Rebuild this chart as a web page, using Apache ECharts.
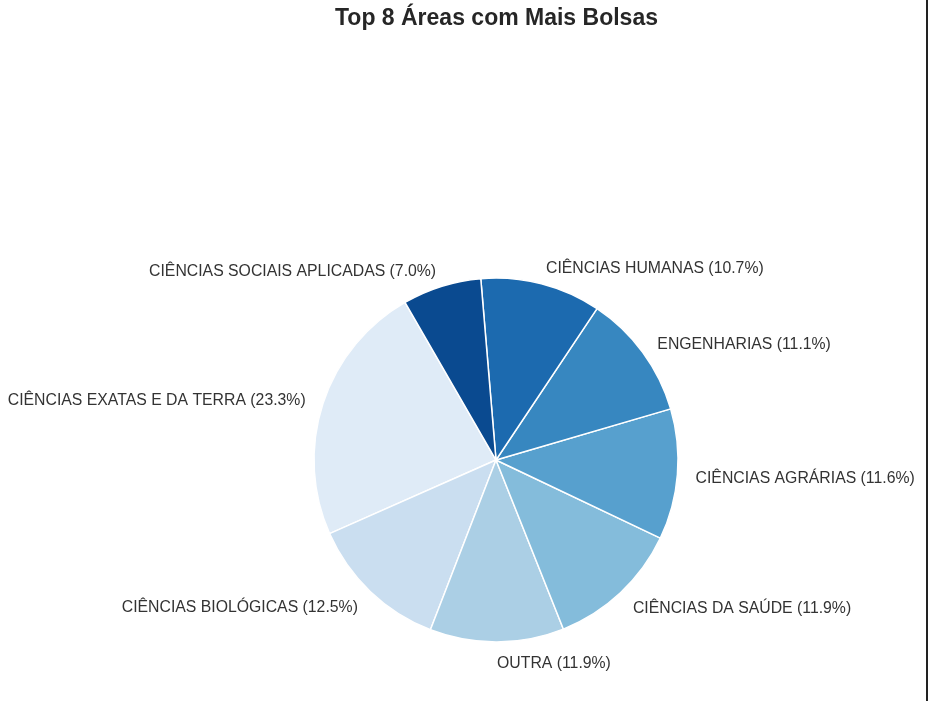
<!DOCTYPE html>
<html>
<head>
<meta charset="utf-8">
<script src="https://cdn.jsdelivr.net/npm/echarts@6/dist/echarts.min.js"></script>
<style>
  html, body { margin: 0; padding: 0; background: #fff; }
  #chart { width: 928px; height: 701px; }
</style>
</head>
<body>
<div id="chart"></div>
<script>
// areas in drawing order (counter-clockwise from 120 deg)
var areas = [
    'CIÊNCIAS EXATAS E DA TERRA',
    'CIÊNCIAS BIOLÓGICAS',
    'OUTRA',
    'CIÊNCIAS DA SAÚDE',
    'CIÊNCIAS AGRÁRIAS',
    'ENGENHARIAS',
    'CIÊNCIAS HUMANAS',
    'CIÊNCIAS SOCIAIS APLICADAS'
];
var shares = [23.3, 12.5, 11.9, 11.9, 11.6, 11.1, 10.7, 7.0];
var colors = ['#dfebf7', '#cadef0', '#abcfe5', '#84bcdb', '#57a0ce', '#3787c0', '#1c6aaf', '#0a4a90'];

var chartDom = document.getElementById('chart');
var myChart = echarts.init(chartDom);

var radius = 182;

var option = {
    backgroundColor: '#ffffff',
    title: {
        text: 'Top 8 Áreas com Mais Bolsas',
        left: 330,
        top: 2,
        textStyle: {
            fontFamily: 'Liberation Sans',
            fontSize: 23,
            fontWeight: 'bold',
            color: '#262626'
        }
    },
    graphic: [{
        type: 'rect',
        shape: { x: 926, y: 0, width: 2, height: 701 },
        style: { fill: '#222' },
        silent: true
    }],
    series: [{
        type: 'pie',
        center: [496, 460],
        radius: radius,
        startAngle: 120,
        clockwise: false,
        avoidLabelOverlap: false,
        animation: false,
        itemStyle: {
            borderColor: '#ffffff',
            borderWidth: 1.5
        },
        label: {
            show: true,
            position: 'outside',
            formatter: function (p) {
                return p.name + ' (' + p.value.toFixed(1) + '%)';
            },
            fontFamily: 'Liberation Sans',
            fontSize: 15.8,
            color: '#333333',
            distanceToLabelLine: 0,
            offset: [0, 3]
        },
        labelLine: {
            show: false,
            length: radius * 0.1,
            length2: 0
        },
        data: areas.map(function (name, i) {
            return { name: name, value: shares[i], itemStyle: { color: colors[i] } };
        })
    }]
};

myChart.setOption(option);
</script>
</body>
</html>
